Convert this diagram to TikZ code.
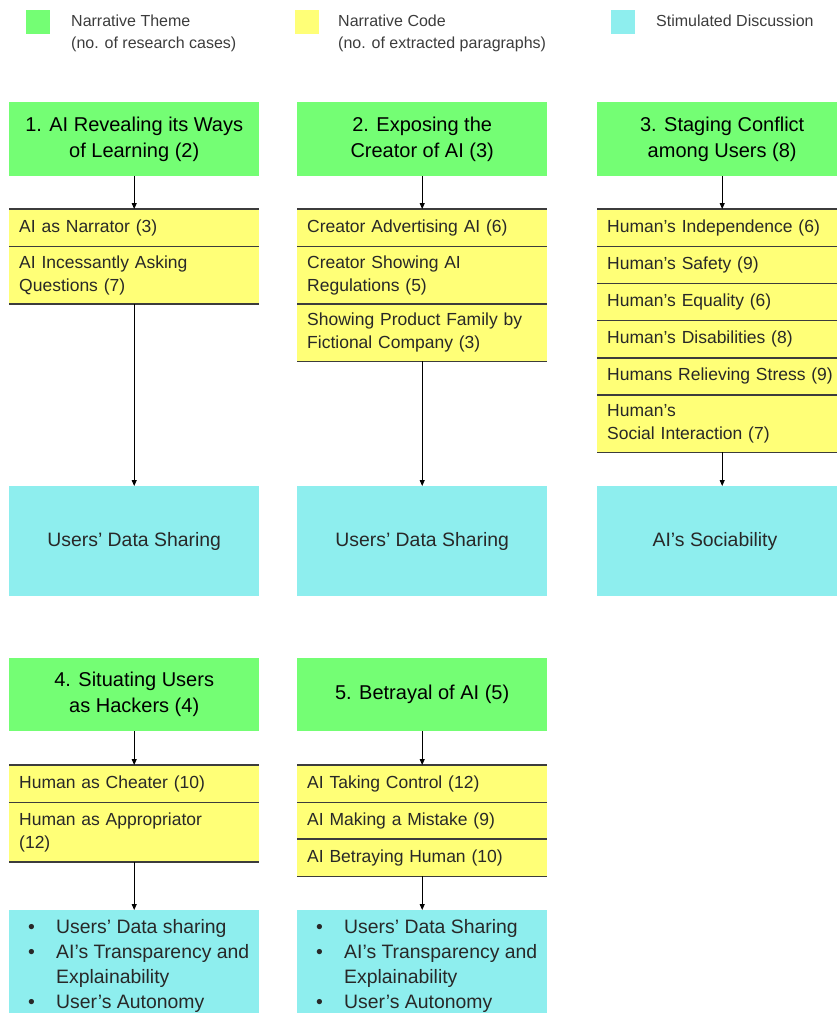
\documentclass[tikz,border=0pt]{standalone}
\usepackage{fontspec}
\setmainfont{Liberation Sans}
\usetikzlibrary{arrows.meta}
\definecolor{gfill}{RGB}{116,254,116}
\definecolor{yfill}{RGB}{255,255,119}
\definecolor{cfill}{RGB}{142,238,238}
\definecolor{sepc}{RGB}{60,60,60}
\definecolor{txt}{RGB}{40,40,40}
\definecolor{legtxt}{RGB}{60,60,60}
\begin{document}
\begin{tikzpicture}[x=1pt,y=-1pt,
  gbox/.style={fill=gfill, minimum width=250pt, inner sep=0pt, anchor=north west, align=center, font=\fontsize{20}{26}\selectfont, text=black},
  yrow/.style={fill=yfill, text width=230pt, inner xsep=10pt, inner ysep=0pt, anchor=north west, align=left, font=\fontsize{17.5}{23}\selectfont, text=txt},
  cbox/.style={fill=cfill, minimum width=250pt, inner sep=0pt, anchor=north west},
  ctext/.style={font=\fontsize{19.4}{25}\selectfont, text=txt, inner sep=0pt},
  sepline/.style={draw=sepc, line width=1.4pt},
  arr/.style={-{Triangle[length=6pt,width=5pt]}, line width=0.9pt, draw=black},
  legsq/.style={fill=#1, minimum width=24pt, minimum height=24pt, inner sep=0pt, anchor=north west},
  legtext/.style={font=\fontsize{16}{22}\selectfont, text=legtxt, inner sep=0pt, anchor=base west}
]
\clip (0,0) rectangle (837,1013);

% legend
\node[legsq=gfill] (lg) at (26,10) {};
\node[legsq=yfill] (ly) at (295,10) {};
\node[legsq=cfill] (lc) at (611,10) {};
\node[legtext] (lgt) at (71,26) {\begin{tabular}[t]{@{}l@{}}Narrative Theme\\(no. of research cases)\end{tabular}};
\node[legtext] (lyt) at (338,26) {\begin{tabular}[t]{@{}l@{}}Narrative Code\\(no. of extracted paragraphs)\end{tabular}};
\node[legtext] (lct) at (656,26) {Stimulated Discussion};

% column 1
\node[gbox, minimum height=74pt] (g1) at (9,102) {1. AI Revealing its Ways\\of Learning (2)};
\node[yrow, minimum height=37pt] (y1a) at (9,209) {AI as Narrator (3)};
\node[yrow, minimum height=57pt] (y1b) at (y1a.south west) {AI Incessantly Asking\\Questions (7)};
\node[cbox, minimum height=110pt] (c1) at (9,486) {};
\node[ctext] (t1) at (c1.center) {Users’ Data Sharing};

% column 2
\node[gbox, minimum height=74pt] (g2) at (297,102) {2. Exposing the\\Creator of AI (3)};
\node[yrow, minimum height=37pt] (y2a) at (297,209) {Creator Advertising AI (6)};
\node[yrow, minimum height=57pt] (y2b) at (y2a.south west) {Creator Showing AI\\Regulations (5)};
\node[yrow, minimum height=57pt] (y2c) at (y2b.south west) {Showing Product Family by\\Fictional Company (3)};
\node[cbox, minimum height=110pt] (c2) at (297,486) {};
\node[ctext] (t2) at (c2.center) {Users’ Data Sharing};

% column 3
\node[gbox, minimum height=74pt] (g3) at (597,102) {3. Staging Conflict\\among Users (8)};
\node[yrow, minimum height=36.8pt] (y3a) at (597,209) {Human’s Independence (6)};
\node[yrow, minimum height=36.8pt] (y3b) at (y3a.south west) {Human’s Safety (9)};
\node[yrow, minimum height=36.8pt] (y3c) at (y3b.south west) {Human’s Equality (6)};
\node[yrow, minimum height=36.8pt] (y3d) at (y3c.south west) {Human’s Disabilities (8)};
\node[yrow, minimum height=36.8pt] (y3e) at (y3d.south west) {Humans Relieving Stress (9)};
\node[yrow, minimum height=57pt] (y3f) at (y3e.south west) {Human’s\\Social Interaction (7)};
\node[cbox, minimum height=110pt] (c3) at (597,486) {};
\node[ctext] (t3) at (715,541) {AI’s Sociability};

% column 4
\node[gbox, minimum height=73pt] (g4) at (9,658) {4. Situating Users\\as Hackers (4)};
\node[yrow, minimum height=37pt] (y4a) at (9,765) {Human as Cheater (10)};
\node[yrow, minimum height=59pt] (y4b) at (y4a.south west) {Human as Appropriator\\(12)};
\node[cbox, minimum height=120pt] (c4) at (9,910) {};
\node[ctext, anchor=base west] (t4) at (28,933) {\begin{tabular}[t]{@{}p{28pt}@{}l@{}}
•&Users’ Data sharing\\
•&AI’s Transparency and\\
 &Explainability\\
•&User’s Autonomy
\end{tabular}};

% column 5
\node[gbox, minimum height=73pt] (g5) at (297,658) {5. Betrayal of AI (5)};
\node[yrow, minimum height=37pt] (y5a) at (297,765) {AI Taking Control (12)};
\node[yrow, minimum height=36pt] (y5b) at (y5a.south west) {AI Making a Mistake (9)};
\node[yrow, minimum height=37pt] (y5c) at (y5b.south west) {AI Betraying Human (10)};
\node[cbox, minimum height=120pt] (c5) at (297,910) {};
\node[ctext, anchor=base west] (t5) at (316,933) {\begin{tabular}[t]{@{}p{28pt}@{}l@{}}
•&Users’ Data Sharing\\
•&AI’s Transparency and\\
 &Explainability\\
•&User’s Autonomy
\end{tabular}};

% separator lines
\foreach \n in {y1a,y1b,y2a,y2b,y2c,y3a,y3b,y3c,y3d,y3e,y3f,y4a,y4b,y5a,y5b,y5c}{
  \draw[sepline] (\n.north west) -- (\n.north east);
  \draw[sepline] (\n.south west) -- (\n.south east);
}

% arrows
\draw[arr] (g1.south) -- (y1a.north);
\draw[arr] (y1b.south) -- (c1.north);
\draw[arr] (g2.south) -- (y2a.north);
\draw[arr] (y2c.south) -- (c2.north);
\draw[arr] (g3.south) -- (y3a.north);
\draw[arr] (y3f.south) -- (c3.north);
\draw[arr] (g4.south) -- (y4a.north);
\draw[arr] (y4b.south) -- (c4.north);
\draw[arr] (g5.south) -- (y5a.north);
\draw[arr] (y5c.south) -- (c5.north);
\end{tikzpicture}
\end{document}
